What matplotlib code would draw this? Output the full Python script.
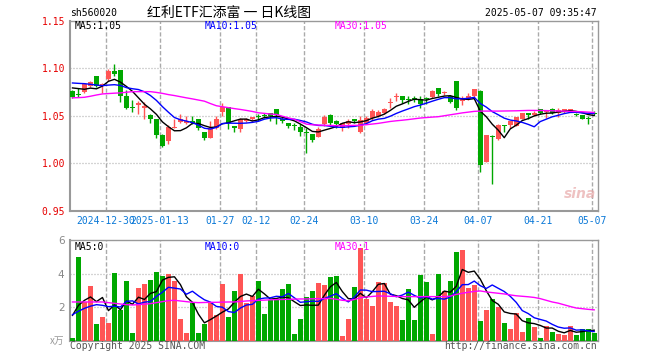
import numpy as np
import pandas as pd
import matplotlib
matplotlib.use("Agg")
import matplotlib.pyplot as plt

# 日K数据（从图上逐根读取，2024-12-20 ~ 2025-05-07）
opens = [1.0764, 1.0725, 1.0747, 1.0816, 1.0913, 1.0816, 1.0889, 1.0972, 1.0983, 1.0712,
         1.0590, 1.0615, 1.0583, 1.0503, 1.0462, 1.0295, 1.0236, 1.0375, 1.0434, 1.0420,
         1.0441, 1.0469, 1.0330, 1.0270, 1.0375, 1.0538, 1.0590, 1.0389, 1.0358, 1.0445,
         1.0462, 1.0497, 1.0500, 1.0524, 1.0566, 1.0469, 1.0420, 1.0403, 1.0382, 1.0330,
         1.0305, 1.0281, 1.0410, 1.0503, 1.0441, 1.0375, 1.0410, 1.0469, 1.0330, 1.0427,
         1.0472, 1.0500, 1.0524, 1.0635, 1.0694, 1.0705, 1.0677, 1.0684, 1.0677, 1.0680,
         1.0694, 1.0792, 1.0738, 1.0705, 1.0868, 1.0653, 1.0677, 1.0705, 1.0764, 1.0010,
         1.0285, 1.0260, 1.0396, 1.0400, 1.0392, 1.0462, 1.0524, 1.0510, 1.0576, 1.0535,
         1.0576, 1.0524, 1.0538, 1.0550, 1.0514, 1.0507, 1.0465, 1.0531]
highs = [1.0771, 1.0792, 1.0840, 1.0864, 1.0913, 1.0847, 1.0990, 1.1045, 1.0983, 1.0774,
         1.0670, 1.0650, 1.0640, 1.0520, 1.0462, 1.0305, 1.0400, 1.0469, 1.0514, 1.0497,
         1.0497, 1.0469, 1.0330, 1.0444, 1.0497, 1.0635, 1.0590, 1.0396, 1.0480, 1.0480,
         1.0490, 1.0514, 1.0531, 1.0531, 1.0566, 1.0497, 1.0420, 1.0427, 1.0410, 1.0375,
         1.0305, 1.0385, 1.0503, 1.0514, 1.0455, 1.0420, 1.0462, 1.0469, 1.0497, 1.0497,
         1.0569, 1.0560, 1.0583, 1.0688, 1.0740, 1.0705, 1.0712, 1.0712, 1.0712, 1.0700,
         1.0770, 1.0792, 1.0757, 1.0722, 1.0868, 1.0705, 1.0740, 1.0785, 1.0774, 1.0295,
         1.0299, 1.0410, 1.0403, 1.0444, 1.0490, 1.0524, 1.0531, 1.0545, 1.0576, 1.0560,
         1.0583, 1.0583, 1.0576, 1.0576, 1.0524, 1.0507, 1.0497, 1.0549]
lows = [1.0687, 1.0698, 1.0740, 1.0806, 1.0805, 1.0740, 1.0870, 1.0920, 1.0642, 1.0573,
        1.0538, 1.0514, 1.0462, 1.0427, 1.0270, 1.0167, 1.0200, 1.0370, 1.0427, 1.0410,
        1.0410, 1.0350, 1.0243, 1.0270, 1.0358, 1.0497, 1.0358, 1.0330, 1.0330, 1.0430,
        1.0440, 1.0441, 1.0476, 1.0441, 1.0410, 1.0420, 1.0368, 1.0350, 1.0288, 1.0108,
        1.0220, 1.0281, 1.0392, 1.0392, 1.0375, 1.0340, 1.0375, 1.0420, 1.0323, 1.0420,
        1.0455, 1.0490, 1.0514, 1.0583, 1.0653, 1.0635, 1.0628, 1.0642, 1.0583, 1.0622,
        1.0690, 1.0705, 1.0722, 1.0635, 1.0559, 1.0618, 1.0670, 1.0698, 0.9906, 1.0010,
        0.9785, 1.0250, 1.0330, 1.0375, 1.0392, 1.0462, 1.0469, 1.0500, 1.0520, 1.0476,
        1.0520, 1.0490, 1.0530, 1.0545, 1.0500, 1.0462, 1.0410, 1.0510]
closes = [1.0694, 1.0720, 1.0837, 1.0854, 1.0809, 1.0837, 1.0972, 1.0940, 1.0705, 1.0583,
          1.0580, 1.0635, 1.0600, 1.0462, 1.0295, 1.0184, 1.0385, 1.0385, 1.0469, 1.0444,
          1.0420, 1.0375, 1.0270, 1.0375, 1.0469, 1.0590, 1.0427, 1.0375, 1.0462, 1.0470,
          1.0489, 1.0490, 1.0493, 1.0497, 1.0503, 1.0444, 1.0392, 1.0396, 1.0330, 1.0316,
          1.0243, 1.0365, 1.0490, 1.0420, 1.0410, 1.0420, 1.0444, 1.0444, 1.0455, 1.0480,
          1.0549, 1.0535, 1.0566, 1.0649, 1.0701, 1.0670, 1.0670, 1.0680, 1.0622, 1.0677,
          1.0757, 1.0733, 1.0744, 1.0642, 1.0583, 1.0677, 1.0712, 1.0785, 0.9983, 1.0295,
          1.0281, 1.0400, 1.0389, 1.0444, 1.0490, 1.0524, 1.0503, 1.0531, 1.0531, 1.0545,
          1.0531, 1.0560, 1.0566, 1.0566, 1.0507, 1.0462, 1.0462, 1.0514]
# 成交量（万手）
vols = [0.15, 4.96, 2.30, 3.24, 0.96, 1.38, 1.04, 4.02, 1.80, 3.54,
        0.42, 3.14, 3.36, 3.60, 4.08, 3.84, 3.96, 3.54, 1.26, 0.42,
        2.22, 0.42, 0.96, 2.22, 1.50, 3.36, 1.38, 2.94, 3.96, 2.22,
        2.64, 3.54, 1.56, 2.40, 2.40, 3.06, 3.36, 0.36, 1.26, 2.58,
        2.94, 3.42, 3.30, 3.80, 3.86, 0.24, 1.30, 3.20, 5.50, 2.50,
        2.07, 3.50, 3.44, 2.30, 2.07, 1.23, 3.08, 1.23, 3.92, 3.50,
        0.40, 3.98, 2.96, 3.56, 5.29, 5.41, 3.14, 3.32, 1.17, 1.83,
        2.49, 2.00, 1.05, 0.70, 1.65, 0.52, 1.35, 0.82, 0.16, 0.87,
        0.52, 0.40, 0.34, 0.87, 0.34, 0.70, 0.70, 0.46]

# 均线：窗口不满的前几根从图上读取
ma5_head = [1.0792, 1.0785, 1.0778, 1.0790]
ma10_head = [1.0844, 1.0840, 1.0837, 1.0830, 1.0822, 1.0816, 1.0822, 1.0826, 1.0818]
ma30_price = [1.0688, 1.0690, 1.0694, 1.0705, 1.0718, 1.0729, 1.0733, 1.0737, 1.0740, 1.0747,
              1.0753, 1.0753, 1.0753, 1.0753, 1.0745, 1.0735, 1.0722, 1.0712, 1.0700, 1.0688,
              1.0677, 1.0665, 1.0653, 1.0628, 1.0605, 1.0595, 1.0585, 1.0575, 1.0566, 1.0556,
              1.0545, 1.0531, 1.0525, 1.0518, 1.0514, 1.0495, 1.0478, 1.0462, 1.0438, 1.0412,
              1.0405, 1.0402, 1.0400, 1.0398, 1.0396, 1.0396, 1.0397, 1.0399, 1.0400, 1.0406,
              1.0413, 1.0420, 1.0430, 1.0440, 1.0447, 1.0453, 1.0460, 1.0468, 1.0476, 1.0481,
              1.0486, 1.0490, 1.0500, 1.0510, 1.0520, 1.0530, 1.0538, 1.0546, 1.0549, 1.0549,
              1.0549, 1.0549, 1.0550, 1.0551, 1.0552, 1.0554, 1.0556, 1.0556, 1.0555, 1.0554,
              1.0552, 1.0550, 1.0548, 1.0546, 1.0544, 1.0542, 1.0538, 1.0534]
vma5_head = [1.5, 2.1, 2.4, 2.6]
vma10_head = [1.54, 1.75, 1.92, 2.05, 2.14, 2.10, 2.02, 2.05, 2.00]
ma30_vol = [2.30, 2.30, 2.30, 2.30, 2.30, 2.30, 2.26, 2.22, 2.18, 2.14,
            2.12, 2.14, 2.17, 2.20, 2.26, 2.32, 2.38, 2.40, 2.36, 2.32,
            2.28, 2.26, 2.27, 2.28, 2.28, 2.29, 2.30, 2.30, 2.33, 2.36,
            2.38, 2.40, 2.41, 2.43, 2.44, 2.45, 2.46, 2.47, 2.48, 2.48,
            2.49, 2.50, 2.50, 2.51, 2.46, 2.40, 2.37, 2.45, 2.55, 2.60,
            2.63, 2.66, 2.65, 2.64, 2.63, 2.62, 2.62, 2.62, 2.62, 2.62,
            2.62, 2.62, 2.62, 2.65, 2.75, 2.82, 2.88, 2.93, 2.96, 2.90,
            2.86, 2.82, 2.78, 2.72, 2.67, 2.64, 2.61, 2.57, 2.50, 2.40,
            2.30, 2.23, 2.13, 2.03, 1.94, 1.90, 1.86, 1.83]

tick_idx = [6, 15, 25, 31, 39, 49, 59, 68, 78, 87]
tick_lab = ["2024-12-30", "2025-01-13", "01-27", "02-12", "02-24",
            "03-10", "03-24", "04-07", "04-21", "05-07"]

RED = "#ff5555"
GREEN = "#00a800"
GRID = "#aaaaaa"
MONO = "DejaVu Sans Mono"


def moving(vals, n, head):
    s = pd.Series(vals, dtype=float).rolling(n).mean().values
    s[:len(head)] = head
    return s


o = np.array(opens); h = np.array(highs); l = np.array(lows); c = np.array(closes)
v = np.array(vols)
x = np.arange(len(c))
up = c >= o
cols = np.where(up, RED, GREEN)

ma5 = moving(c, 5, ma5_head)
ma10 = moving(c, 10, ma10_head)
ma30 = np.array(ma30_price)
vma5 = moving(v, 5, vma5_head)
vma10 = moving(v, 10, vma10_head)
vma30 = np.array(ma30_vol)

W, H = 660, 360
fig = plt.figure(figsize=(6.6, 3.6), dpi=100)
fig.patch.set_facecolor("white")


def fx(px):
    return px / W


def fy(py):
    return 1 - py / H


ax = fig.add_axes([fx(70), fy(211), (597.7 - 70) / W, (211 - 20.5) / H])
ax2 = fig.add_axes([fx(70), fy(340.5), (597.7 - 70) / W, (340.5 - 240) / H])

bw = 0.83
# K线
ax.vlines(x + bw / 2, l, h, colors=cols, lw=1, zorder=3)
body_h = np.maximum(np.abs(c - o), 0.0011)
ax.bar(x, body_h, bottom=np.minimum(o, c), width=bw, align="edge",
       color=cols, linewidth=0, zorder=4)
ax.plot(x + bw / 2, ma5, color="black", lw=1, zorder=5)
ax.plot(x + bw / 2, ma10, color="#0000ff", lw=1, zorder=5)
ax.plot(x + bw / 2, ma30, color="#ff00ff", lw=1, zorder=5)

ax.set_xlim(0, 88)
ax.set_ylim(0.95, 1.15)
ax.set_yticks([0.95, 1.00, 1.05, 1.10, 1.15])
ax.set_yticklabels(["%.2f" % t for t in [0.95, 1.00, 1.05, 1.10, 1.15]],
                   color="#e60000", fontsize=7, family=MONO)
ax.set_xticks(tick_idx)
ax.set_xticklabels(tick_lab, color="#0a78d7", fontsize=7, family=MONO)
ax.tick_params(length=0, pad=3.5)
for yv in [1.00, 1.05, 1.10]:
    ax.axhline(yv, color=GRID, lw=0.9, ls=(0, (0.8, 1.6)), zorder=1)
for t in tick_idx:
    ax.axvline(t, color=GRID, lw=1, ls=(0, (3, 1.5)), zorder=1)

# 成交量
ax2.bar(x, v, width=bw, align="edge", color=cols, linewidth=0, zorder=3)
ax2.plot(x + bw / 2, vma5, color="black", lw=1, zorder=5)
ax2.plot(x + bw / 2, vma10, color="#0000ff", lw=1, zorder=5)
ax2.plot(x + bw / 2, vma30, color="#ff00ff", lw=1, zorder=5)
ax2.set_xlim(0, 88)
ax2.set_ylim(0, 6)
ax2.set_yticks([2, 4, 6])
ax2.set_yticklabels(["2", "4", "6"], color="#888888", fontsize=7.5)
ax2.set_xticks([])
ax2.tick_params(length=0, pad=4)
for yv in [2, 4]:
    ax2.axhline(yv, color=GRID, lw=0.9, ls=(0, (0.8, 1.6)), zorder=1)
for t in tick_idx:
    ax2.axvline(t, color=GRID, lw=1, ls=(0, (3, 1.5)), zorder=1)

for a in (ax, ax2):
    a.set_facecolor("white")
    for s in a.spines.values():
        s.set_color("#999999")
        s.set_linewidth(1)
    a.spines["left"].set_linewidth(1.5)
    a.spines["bottom"].set_linewidth(1.5)

# 文本
fig.text(fx(70), fy(13), "sh560020", fontsize=7, family=MONO, va="center", ha="left")
fig.text(fx(229), fy(12.5), "红利ETF汇添富 一 日K线图", fontsize=10,
         family=["Noto Sans CJK SC", "DejaVu Sans"], va="center", ha="center")
fig.text(fx(597), fy(13), "2025-05-07 09:35:47", fontsize=7, family=MONO,
         va="center", ha="right")

fig.text(fx(75), fy(26), "MA5:%.2f" % ma5[-1], fontsize=7, family=MONO,
         color="black", va="center")
fig.text(fx(205), fy(26), "MA10:%.2f" % ma10[-1], fontsize=7, family=MONO,
         color="#0000ff", va="center")
fig.text(fx(335), fy(26), "MA30:%.2f" % ma30[-1], fontsize=7, family=MONO,
         color="#ff00ff", va="center")

fig.text(fx(75), fy(246.5), "MA5:%d" % int(vma5[-1]), fontsize=7, family=MONO,
         color="black", va="center")
fig.text(fx(205), fy(246.5), "MA10:%d" % int(vma10[-1]), fontsize=7, family=MONO,
         color="#0000ff", va="center")
fig.text(fx(335), fy(246.5), "MA30:%d" % int(vma30[-1]), fontsize=7, family=MONO,
         color="#ff00ff", va="center")

fig.text(fx(64), fy(341), "x万", fontsize=7, color="#999999",
         family=["Noto Sans CJK SC", "DejaVu Sans"], va="center", ha="right")
fig.text(fx(70), fy(346), "Copyright 2025 SINA.COM", fontsize=7, family=MONO,
         color="#555555", va="center", ha="left")
fig.text(fx(597), fy(346), "http://finance.sina.com.cn", fontsize=7, family=MONO,
         color="#555555", va="center", ha="right")

# 水印
fig.text(fx(596), fy(194), "sina", fontsize=10, fontweight="bold", style="italic",
         color="#e8a8a8", alpha=0.7, va="center", ha="right")

fig.savefig("out.png", dpi=100)
